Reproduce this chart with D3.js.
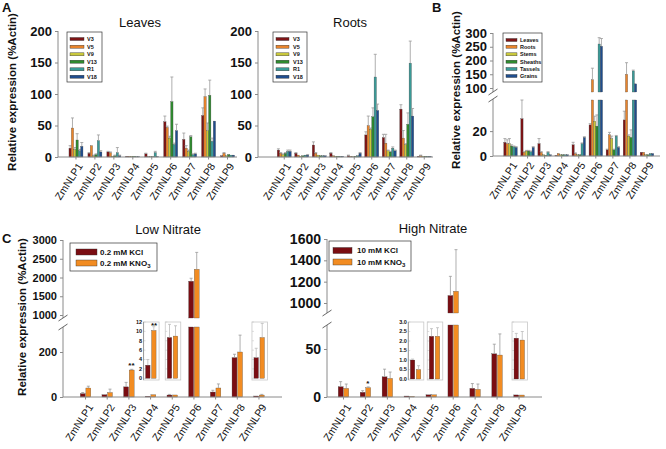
<!DOCTYPE html>
<html><head><meta charset="utf-8">
<script src="https://cdnjs.cloudflare.com/ajax/libs/d3/7.8.5/d3.min.js"></script>
<style>body{margin:0;background:#fff} text{font-family:"Liberation Sans",Arial,sans-serif;fill:#111}</style>
</head><body><svg id="c" width="666" height="449"></svg>
<script>
// ---------- DATA ----------
const genes = ["ZmNLP1","ZmNLP2","ZmNLP3","ZmNLP4","ZmNLP5","ZmNLP6","ZmNLP7","ZmNLP8","ZmNLP9"];
const stages = ["V3","V5","V9","V13","R1","V18"];
const tissues = ["Leaves","Roots","Stems","Sheaths","Tassels","Grains"];
// per gene: values for each stage
const leavesMean = [[14,46,12,27,10,17],[6,18,2,4,26,8],[8,7,1,2,7,2],[1,1,1,1,0.5,0.5],[5,0.5,0.5,0.5,7,0.5],[56,47,30,88,20,42],[28,14,9,32,4,5],[66,96,42,98,25,57],[2,6,2,4,3,3]];
const leavesErr  = [[4,16,3,10,2,6],[1,0,1,1,9,2],[1,1,0,1,8,1],[0,0,0,0,0,0],[1,0,0,0,2,0],[9,2,3,39,2,10],[10,4,2,2,1,1],[12,12,12,24,5,0],[0,1,0,0,0,0]];
const rootsMean  = [[11,6,4,6,9,9],[6,3,1,2,3,3],[19,6,3,2,2,2],[6,2,1,1,1,1],[2,1,0.5,1,2,6],[35,50,44,64,127,74],[31,22,10,8,14,10],[76,30,20,52,149,65],[1,2,1,1,1,1]];
const rootsErr   = [[2,1,1,1,2,2],[1,0,0,0,0,1],[5,1,0,0,0,0],[1,0,0,0,0,0],[1,0,0,0,0,1],[5,15,2,14,36,10],[5,14,1,1,2,1],[7,12,1,18,35,12],[0,1,0,0,0,0]];
const tissueMean = [[11,10,10,8,7.5,7],[30,3,4,4,3.5,7],[10,3,1,0.5,3,1],[0.5,2,1,1,1,1],[9,2,1,1,10,15],[25,130,28,24,260,252],[5,17,14,5,16,7],[29,150,16,15,162,115],[3,3,1,1,2,2]];
const tissueErr  = [[3,3,4,1,0.5,0.5],[15,0.5,0.5,0.5,0.5,0.5],[4,0.5,0,0,0.5,0],[0,0,0,0,0,0],[2,0.5,0,0,0.5,0.5],[1,42,4,9,23,28],[0.5,2,2,0.5,0.5,0.5],[7,42,1,6,3,2],[0,0,0,0,0,0]];
const lowKCl     = [15,10,45,2.8,8.7,1900,22,175,4.4];
const lowKClErr  = [5,2,20,1.2,2.8,80,8,15,2];
const lowKNO3    = [40,20,120,10.2,9,2220,40,200,8.7];
const lowKNO3Err = [8,15,3,0.8,2.2,450,18,75,3];
const highKCl     = [10.7,4.9,21,1.0,2.25,1070,9,45,2.15];
const highKClErr  = [5.3,1.7,8,0.05,0.4,180,5,10,0.25];
const highKNO3    = [9,9.7,19.4,0.5,2.25,1110,8,43.7,2.05];
const highKNO3Err = [4.5,0.8,6.6,0.2,0.45,390,5.5,22,0.45];
const insetGenes = ["ZmNLP4","ZmNLP5","ZmNLP9"];
const lowInsetTicks = [0,2,4,6,8,10,12];
const highInsetTicks = [0,0.5,1,1.5,2,2.5,3];
const aTicks = [0,50,100,150,200];
const bLowTicks = [0,20], bUpTicks = [100,150,200,250,300];
const cLowLowTicks = [0,200], cLowUpTicks = [1000,1500,2000,2500,3000];
const cHighLowTicks = [0,50], cHighUpTicks = [1000,1200,1400,1600];
const lowLegend = ["0.2 mM KCl","0.2 mM KNO"], highLegend = ["10 mM KCl","10 mM KNO"];

const colors6 = ["#7d1416","#e8842c","#c9c83c","#2f8a2f","#3a9a97","#1f4d8d"];
const nColors = ["#7a0d12","#f28c22"];
const AX = "#8a8a8a", ERR = "#9a9a9a";

const svg = d3.select("#c");
const font = "Liberation Sans, Arial, sans-serif";
const fmtInt = d3.format("d");

function yAxis(g, scale, ticks, x, yTop, yBot, fs, fmt) {
  const ax = d3.axisLeft(scale).tickValues(ticks).tickSize(3).tickPadding(3).tickFormat(fmt || fmtInt);
  const a = g.append("g").attr("transform", `translate(${x},0)`).call(ax);
  a.select(".domain").remove();
  a.selectAll("line").attr("stroke", AX);
  a.selectAll("text").attr("font-size", fs).attr("font-weight", "bold").attr("font-family", font).attr("fill","#111");
  g.append("line").attr("x1", x).attr("x2", x).attr("y1", yTop).attr("y2", yBot).attr("stroke", AX);
}
function xAxis(g, x, x0, x1, y, fs, ang, dx, dy) {
  g.append("line").attr("x1", x0).attr("x2", x1).attr("y1", y).attr("y2", y).attr("stroke", AX);
  g.selectAll(null).data(genes).enter().append("line")
    .attr("x1", d => x(d) + x.bandwidth()/2).attr("x2", d => x(d) + x.bandwidth()/2)
    .attr("y1", y).attr("y2", y + 2.5).attr("stroke", AX);
  g.selectAll(null).data(genes).enter().append("text")
    .attr("transform", d => `translate(${x(d) + x.bandwidth()/2 + dx},${y + dy}) rotate(${ang})`)
    .attr("text-anchor", "end").attr("font-size", fs).attr("dy", "0.35em").text(d => d);
}
function slash(g, x, y) {
  g.append("line").attr("x1", x-4.5).attr("x2", x+4.5).attr("y1", y+3).attr("y2", y-3).attr("stroke", "#666").attr("stroke-width",1);
}

// Generic grouped bars with optional broken axis
function bars(g, x, groupW, nSer, means, errs, colorFn, yL, lowMax, yU, upBottom, pad) {
  const inner = d3.scaleBand().domain(d3.range(nSer)).range([-groupW/2, groupW/2]).paddingInner(pad||0);
  genes.forEach((gene, gi) => {
    const cx = x(gene) + x.bandwidth()/2;
    for (let s = 0; s < nSer; s++) {
      const v = means[gi][s], e = errs[gi][s];
      const bx = cx + inner(s), bw = inner.bandwidth();
      const broken = yU && v > lowMax;
      const topL = broken ? yL(lowMax) : yL(v);
      g.append("rect").attr("x", bx).attr("width", bw).attr("y", topL).attr("height", yL(0) - topL)
        .attr("fill", colorFn(s)).attr("stroke", "#444").attr("stroke-width", 0.3);
      let ey0, ey1;
      if (broken) {
        g.append("rect").attr("x", bx).attr("width", bw).attr("y", yU(v)).attr("height", upBottom - yU(v))
          .attr("fill", colorFn(s)).attr("stroke", "#444").attr("stroke-width", 0.3);
        ey0 = yU(v); ey1 = yU(v + e);
      } else { ey0 = yL(v); ey1 = yL(Math.min(v + e, yU ? lowMax : v + e)); }
      if (e > 0 && ey0 - ey1 > 0.6) {
        const mx = bx + bw/2;
        g.append("line").attr("x1", mx).attr("x2", mx).attr("y1", ey0).attr("y2", ey1).attr("stroke", ERR).attr("stroke-width", 0.8);
        g.append("line").attr("x1", mx-1.5).attr("x2", mx+1.5).attr("y1", ey1).attr("y2", ey1).attr("stroke", ERR).attr("stroke-width", 0.8);
      }
    }
  });
}
function legend(g, x0, y0, w, h, labels, colors, sx, sw, sh, tx, ys, fs, sub) {
  g.append("rect").attr("x", x0).attr("y", y0).attr("width", w).attr("height", h).attr("fill", "#fff").attr("stroke", "#333").attr("stroke-width", 0.7);
  labels.forEach((l, i) => {
    g.append("rect").attr("x", sx).attr("y", ys[i] - sh/2).attr("width", sw).attr("height", sh).attr("fill", colors[i]).attr("stroke", "#333").attr("stroke-width", 0.4);
    const t = g.append("text").attr("x", tx).attr("y", ys[i]).attr("dy", "0.35em").attr("font-size", fs).attr("font-weight", "bold").text(l);
    if (sub && i === 1) t.append("tspan").attr("font-size", fs*0.75).attr("dy", "0.3em").text("3");
  });
}
function yTitle(g, x, y, fs) {
  g.append("text").attr("transform", `translate(${x},${y}) rotate(-90)`).attr("text-anchor", "middle")
    .attr("font-size", fs).attr("font-weight", "bold").attr("dy", "0.35em").text("Relative expression (%Actin)");
}

const XFS = 10.5, XANG = -57;
// ---------- PANEL A ----------
const gA = svg.append("g");
gA.append("text").attr("x", 2).attr("y", 12).attr("font-size", 13).attr("font-weight", "bold").text("A");
yTitle(gA, 12, 92, 11.5);
const yA = d3.scaleLinear().domain([0, 200]).range([157, 31]);
// Leaves
const xLv = d3.scaleBand().domain(genes).range([66.5, 237]);
yAxis(gA, yA, aTicks, 58, 31, 157, 13);
bars(gA, xLv, 14, 6, leavesMean, leavesErr, s => colors6[s], yA);
xAxis(gA, xLv, 58, 237, 157, XFS, XANG, 4, 7);
gA.append("text").attr("x", 140).attr("y", 27).attr("text-anchor", "middle").attr("font-size", 13).text("Leaves");
legend(gA, 67, 32, 35, 50, stages, colors6, 70, 14, 3, 87, [39,46.7,54.3,61.7,69.3,76.7], 5.5);
// Roots
const xRt = d3.scaleBand().domain(genes).range([275.5, 433]);
yAxis(gA, yA, aTicks, 258, 31, 157, 13);
bars(gA, xRt, 14, 6, rootsMean, rootsErr, s => colors6[s], yA);
xAxis(gA, xRt, 258, 433, 157, XFS, XANG, 4, 7);
gA.append("text").attr("x", 350).attr("y", 27).attr("text-anchor", "middle").attr("font-size", 13).text("Roots");
legend(gA, 273, 32, 34, 50, stages, colors6, 276, 13, 3, 293, [39,46.7,54.3,61.7,69.3,76.7], 5.5);

// ---------- PANEL B ----------
const gB = svg.append("g");
gB.append("text").attr("x", 432).attr("y", 12).attr("font-size", 13).attr("font-weight", "bold").text("B");
yTitle(gB, 456, 90, 11.5);
const yBL = d3.scaleLinear().domain([0, 45]).range([156, 100]);
const yBU = d3.scaleLinear().domain([100, 300]).range([88, 33]);
const xB = d3.scaleBand().domain(genes).range([502, 655.5]);
yAxis(gB, yBL, bLowTicks, 493, 99, 156, 13);
yAxis(gB, yBU, bUpTicks, 493, 33, 92, 13);
slash(gB, 493, 92); slash(gB, 493, 99);
bars(gB, xB, 13.5, 6, tissueMean, tissueErr, s => colors6[s], yBL, 45, yBU, 92);
xAxis(gB, xB, 493, 660, 156, XFS, XANG, 4, 7);
legend(gB, 503, 33, 39, 49, tissues, colors6, 506, 11, 3, 520, [40,46.7,54.3,61.7,69,76], 5.5);

// ---------- PANEL C ----------
const gC = svg.append("g");
gC.append("text").attr("x", 2).attr("y", 243).attr("font-size", 13).attr("font-weight", "bold").text("C");
yTitle(gC, 22, 317, 11.5);
function pair(arrA, arrB) { return genes.map((_, i) => [arrA[i], arrB[i]]); }

function insets(g, x, yS, ticks, labelFmt, kcl, kclE, kno, knoE, shifts, yTop, yBot) {
  insetGenes.forEach((gene, k) => {
    const gi = genes.indexOf(gene);
    const cx = x(gene) + x.bandwidth()/2 + shifts[k];
    const fx0 = cx - 7, fx1 = cx + 8.5;
    g.append("rect").attr("x", fx0).attr("y", yTop).attr("width", fx1 - fx0).attr("height", yBot - yTop)
      .attr("fill", "#fff").attr("stroke", "#c8c8c8").attr("stroke-width", 0.8);
    ticks.forEach(t => g.append("line").attr("x1", fx0).attr("x2", fx0 + 2).attr("y1", yS(t)).attr("y2", yS(t)).attr("stroke", "#c8c8c8").attr("stroke-width", 0.6));
    if (k === 0) {
      g.append("line").attr("x1", fx0).attr("x2", fx0).attr("y1", yTop).attr("y2", yBot).attr("stroke", "#999");
      ticks.forEach(t => g.append("text").attr("x", fx0 - 1.5).attr("y", yS(t)).attr("dy", "0.35em").attr("text-anchor", "end")
        .attr("font-size", 5.5).attr("font-weight", "bold").attr("fill", "#333").text(labelFmt(t)));
    }
    const vals = [[kcl[gi], kclE[gi]], [kno[gi], knoE[gi]]];
    vals.forEach(([v, e], s) => {
      const bx = cx - 5 + s * 6, bw = 4.5;
      g.append("rect").attr("x", bx).attr("width", bw).attr("y", yS(v)).attr("height", yS(0) - yS(v))
        .attr("fill", nColors[s]).attr("stroke", "#444").attr("stroke-width", 0.3);
      const mx = bx + bw/2;
      if (yS(v) - yS(v + e) > 0.6) {
        g.append("line").attr("x1", mx).attr("x2", mx).attr("y1", yS(v)).attr("y2", yS(v + e)).attr("stroke", "#bbb").attr("stroke-width", 0.8);
        g.append("line").attr("x1", mx-1.5).attr("x2", mx+1.5).attr("y1", yS(v + e)).attr("y2", yS(v + e)).attr("stroke", "#bbb").attr("stroke-width", 0.8);
      }
    });
  });
}

// Low nitrate
const xCL = d3.scaleBand().domain(genes).range([74.7, 269.8]);
const yCLL = d3.scaleLinear().domain([0, 200]).range([397, 352]);
const cLowMax = yCLL.invert(327);
const yCLU = d3.scaleLinear().domain([1000, 3000]).range([315, 240]);
yAxis(gC, yCLL, cLowLowTicks, 63, 327, 397, 11);
yAxis(gC, yCLU, cLowUpTicks, 63, 240, 318, 11);
slash(gC, 63, 318); slash(gC, 63, 327);
bars(gC, xCL, 10.5, 2, pair(lowKCl, lowKNO3), pair(lowKClErr, lowKNO3Err), s => nColors[s], yCLL, cLowMax, yCLU, 318, 0.12);
xAxis(gC, xCL, 63, 282, 397, XFS, XANG, 5, 8);
gC.append("text").attr("x", 168).attr("y", 234).attr("text-anchor", "middle").attr("font-size", 13).text("Low Nitrate");
legend(gC, 70, 243, 87, 28, lowLegend, nColors, 76, 21, 6, 100, [252, 263], 8, true);
const ySL = d3.scaleLinear().domain([0, 12]).range([378.3, 322]);
insets(gC, xCL, ySL, lowInsetTicks, d3.format("d"), lowKCl, lowKClErr, lowKNO3, lowKNO3Err, [0, 0, 0], 322, 380);
// significance
const cx3 = xCL("ZmNLP3") + xCL.bandwidth()/2;
gC.append("text").attr("x", cx3 + 2.5).attr("y", yCLL(lowKNO3[2] + lowKNO3Err[2]) - 1).attr("text-anchor", "middle").attr("font-size", 8).attr("font-weight", "bold").text("**");
const cx4 = xCL("ZmNLP4") + xCL.bandwidth()/2;
gC.append("text").attr("x", cx4 + 3.5).attr("y", 328).attr("text-anchor", "middle").attr("font-size", 8).attr("font-weight", "bold").text("**");

// High nitrate
const xCH = d3.scaleBand().domain(genes).range([332.5, 530]);
const yCHL = d3.scaleLinear().domain([0, 50]).range([397, 349]);
const cHighMax = yCHL.invert(325);
const yCHU = d3.scaleLinear().domain([1000, 1600]).range([303, 239]);
yAxis(gC, yCHL, cHighLowTicks, 327, 325, 397, 14);
yAxis(gC, yCHU, cHighUpTicks, 327, 239, 313, 14);
slash(gC, 327, 313); slash(gC, 327, 325);
bars(gC, xCH, 10.5, 2, pair(highKCl, highKNO3), pair(highKClErr, highKNO3Err), s => nColors[s], yCHL, cHighMax, yCHU, 313, 0.12);
xAxis(gC, xCH, 327, 542, 397, XFS, XANG, 5, 8);
gC.append("text").attr("x", 433).attr("y", 233).attr("text-anchor", "middle").attr("font-size", 13).text("High Nitrate");
legend(gC, 329, 241, 82, 30, highLegend, nColors, 333, 19, 6, 357, [250.5, 262], 8, true);
const ySH = d3.scaleLinear().domain([0, 3]).range([379, 322]);
insets(gC, xCH, ySH, highInsetTicks, d3.format(".1f"), highKCl, highKClErr, highKNO3, highKNO3Err, [6, 3, 0], 322, 380);
const hx2 = xCH("ZmNLP2") + xCH.bandwidth()/2;
gC.append("text").attr("x", hx2 + 2.5).attr("y", yCHL(highKNO3[1] + highKNO3Err[1]) - 1).attr("text-anchor", "middle").attr("font-size", 8).attr("font-weight", "bold").text("*");
</script></body></html>
